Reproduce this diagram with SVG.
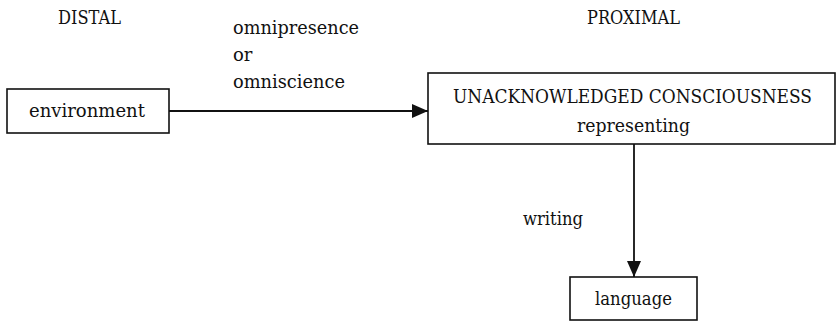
<svg xmlns="http://www.w3.org/2000/svg" width="838" height="324" viewBox="0 0 838 324">
  <style>
    .box { fill: #ffffff; stroke: #111111; stroke-width: 1.6; }
    .lbl { font-family: "DejaVu Serif", "Liberation Serif", serif; font-size: 18px; fill: #111111; }
    .edge { stroke: #111111; stroke-width: 1.8; fill: none; }
  </style>
  <defs>
    <marker id="arrow" viewBox="0 0 16 14" refX="16" refY="7" markerWidth="16" markerHeight="14" markerUnits="userSpaceOnUse" orient="auto">
      <path d="M0,0 L16,7 L0,14 Z" fill="#111111"/>
    </marker>
  </defs>

  <!-- column headings -->
  <text class="lbl" x="58" y="24" textLength="63" lengthAdjust="spacingAndGlyphs">DISTAL</text>
  <text class="lbl" x="587" y="24" textLength="93" lengthAdjust="spacingAndGlyphs">PROXIMAL</text>

  <!-- connectors -->
  <g id="connectors">
    <line class="edge" x1="169" y1="111" x2="428" y2="111" marker-end="url(#arrow)"/>
    <line class="edge" x1="634" y1="144" x2="634" y2="277" marker-end="url(#arrow)"/>
    <text class="lbl" x="233" y="34" textLength="126" lengthAdjust="spacingAndGlyphs">omnipresence</text>
    <text class="lbl" x="233" y="61">or</text>
    <text class="lbl" x="233" y="88" textLength="112" lengthAdjust="spacingAndGlyphs">omniscience</text>
    <text class="lbl" x="523" y="225" textLength="60" lengthAdjust="spacingAndGlyphs">writing</text>
  </g>

  <g id="environment">
    <rect class="box" x="7" y="89" width="162" height="44"/>
    <text class="lbl" x="29" y="117" textLength="116" lengthAdjust="spacingAndGlyphs">environment</text>
  </g>

  <g id="consciousness">
    <rect class="box" x="428" y="73" width="407" height="71"/>
    <text class="lbl" x="453" y="103" textLength="359" lengthAdjust="spacingAndGlyphs">UNACKNOWLEDGED CONSCIOUSNESS</text>
    <text class="lbl" x="577" y="132" textLength="113" lengthAdjust="spacingAndGlyphs">representing</text>
  </g>

  <g id="language">
    <rect class="box" x="570" y="277" width="127" height="43"/>
    <text class="lbl" x="595" y="305" textLength="77" lengthAdjust="spacingAndGlyphs">language</text>
  </g>
</svg>
